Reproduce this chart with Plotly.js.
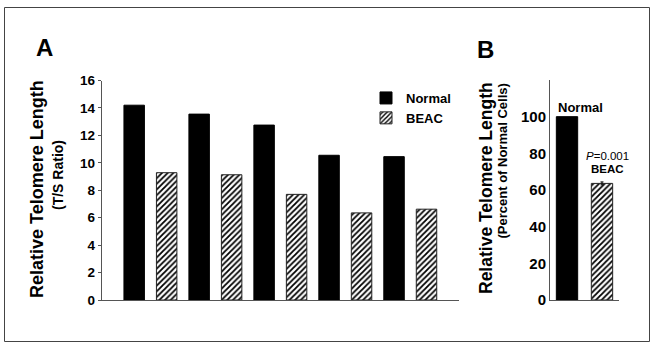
<!DOCTYPE html>
<html>
<head>
<meta charset="utf-8">
<script src="https://cdn.plot.ly/plotly-3.0.1.min.js"></script>
<style>html,body{margin:0;padding:0;background:#fff;}#chart{width:651px;height:344px;}</style>
</head>
<body>
<div id="chart"></div>
<script>
// Panel A data
const categoriesA = ['1', '2', '3', '4', '5'];
const normalA = [14.2, 13.55, 12.75, 10.55, 10.45];
const beacA = [9.28, 9.13, 7.7, 6.35, 6.62];
const ticksA = [0, 2, 4, 6, 8, 10, 12, 14, 16];
// Panel B data
const groupsB = ['Normal', 'BEAC'];
const valuesB = [100, 63.6];
const errorsB = [0, 0.8];
const ticksB = [0, 20, 40, 60, 80, 100];

const W = 651, H = 344;
const px = x => x / W;
const py = y => 1 - y / H;
const FONT = 'Liberation Sans, Arial, Helvetica, sans-serif';
const AX = '#555';

const hatch = {shape: '/', fgcolor: '#000', bgcolor: '#fff', size: 4, solidity: 0.45};

const traces = [
  {type: 'bar', name: 'Normal', x: categoriesA, y: normalA, xaxis: 'x', yaxis: 'y',
   marker: {color: '#000', line: {color: '#000', width: 1}}, showlegend: true},
  {type: 'bar', name: 'BEAC', x: categoriesA, y: beacA, xaxis: 'x', yaxis: 'y',
   marker: {color: '#fff', pattern: hatch, line: {color: '#222', width: 1}}, showlegend: true},
  {type: 'bar', name: 'Normal B', x: [groupsB[0]], y: [valuesB[0]], xaxis: 'x2', yaxis: 'y2',
   width: 0.61, offsetgroup: 'b',
   marker: {color: '#000', line: {color: '#000', width: 1}}, showlegend: false},
  {type: 'bar', name: 'BEAC B', x: [groupsB[1]], y: [valuesB[1]], xaxis: 'x2', yaxis: 'y2',
   width: 0.61, offsetgroup: 'b',
   error_y: {type: 'data', array: [errorsB[1]], visible: true, color: '#000', thickness: 1, width: 1.5},
   marker: {color: '#fff', pattern: hatch, line: {color: '#222', width: 1}}, showlegend: false}
];

const ann = (x, y, text, size, opts) => Object.assign({
  xref: 'paper', yref: 'paper', x: px(x), y: py(y), text: text, showarrow: false,
  xanchor: 'center', yanchor: 'middle', font: {family: FONT, size: size, color: '#000'}
}, opts || {});

const layout = {
  width: W, height: H,
  margin: {l: 0, r: 0, t: 0, b: 0},
  paper_bgcolor: '#fff', plot_bgcolor: 'rgba(0,0,0,0)',
  font: {family: FONT, color: '#000'},
  barmode: 'group', bargap: 0, bargroupgap: 0.37,
  showlegend: true,
  legend: {x: px(366), y: py(83), xanchor: 'left', yanchor: 'top', bgcolor: 'rgba(0,0,0,0)',
           font: {family: FONT, size: 13, weight: 'bold', color: '#000'}, itemwidth: 30, tracegroupgap: 0},
  xaxis: {type: 'category', domain: [px(101.7), px(459)], range: [-0.75, 4.75], showticklabels: false, ticks: '',
          showline: true, linecolor: AX, linewidth: 1, showgrid: false, zeroline: false, fixedrange: true, anchor: 'y'},
  yaxis: {domain: [py(300), py(80.5)], range: [0, 16], tickvals: ticksA, ticks: 'outside', ticklen: 3,
          tickcolor: AX, showline: true, linecolor: AX, linewidth: 1, showgrid: false, zeroline: false,
          tickfont: {family: FONT, size: 13.5, weight: 'bold', color: '#000'}, anchor: 'x'},
  xaxis2: {type: 'category', domain: [px(550), px(619)], range: [-0.486, 1.486], showticklabels: false, ticks: '',
           showline: true, linecolor: AX, linewidth: 1, showgrid: false, zeroline: false, anchor: 'y2'},
  yaxis2: {domain: [py(300), py(80)], range: [0, 120], tickvals: ticksB, ticks: '',
           showline: true, linecolor: AX, linewidth: 1, showgrid: false, zeroline: false,
           tickfont: {family: FONT, size: 15, weight: 'bold', color: '#000'}, anchor: 'x2'},
  shapes: [
    {type: 'rect', xref: 'paper', yref: 'paper', x0: px(4.5), x1: px(649.5), y0: py(341.5), y1: py(7.5),
     line: {color: '#444', width: 1}, fillcolor: 'rgba(0,0,0,0)'}
  ],
  annotations: [
    ann(44, 47, '<b>A</b>', 24),
    ann(485, 49, '<b>B</b>', 24),
    ann(37, 189, '<b>Relative Telomere Length</b>', 18, {textangle: -90}),
    ann(58, 175, '<b>(T/S Ratio)</b>', 14, {textangle: -90}),
    ann(486, 188, '<b>Relative Telomere Length</b>', 17.5, {textangle: -90}),
    ann(502.5, 161, '<b>(Percent of Normal Cells)</b>', 13, {textangle: -90}),
    ann(580, 107, '<b>Normal</b>', 13),
    ann(607, 156, '<i>P</i>=0.001', 11.5),
    ann(607, 169, '<b>BEAC</b>', 11.5)
  ]
};

Plotly.newPlot('chart', traces, layout, {staticPlot: true, displayModeBar: false});
</script>
</body>
</html>
